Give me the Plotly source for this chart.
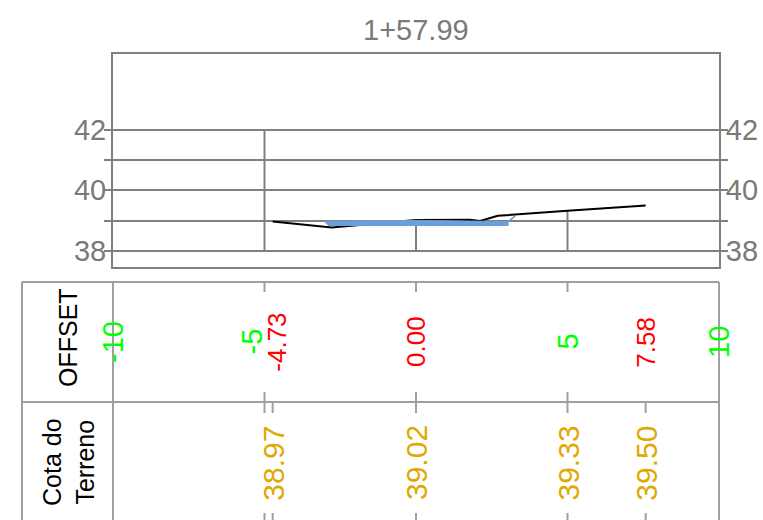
import plotly.graph_objects as go

# ---- data ----
station_title = "1+57.99"
terrain_x = [-4.73, -2.78, 0.00, 1.78, 2.11, 2.70, 5.00, 7.58]
terrain_y = [38.97, 38.77, 39.02, 39.03, 38.99, 39.16, 39.33, 39.50]
pave_x = [-3.05, 0.00, 3.04, 3.04, -2.90]
pave_y = [38.98, 39.01, 38.97, 38.84, 38.84]
slope_x = [3.04, 3.27]
slope_y = [38.97, 39.15]
grid_x = [-5, 0, 5]
grid_top = [42, 39.02, 39.33]
grid_bottom = 38
y_ticks = [38, 39, 40, 41, 42]
y_ticktext = ["38", "", "40", "", "42"]
offset_grid_vals = [-10, -5, 5, 10]
offset_grid_text = ["-10", "-5", "5", "10"]
offset_point_vals = [-4.73, 0.00, 7.58]
offset_point_text = ["-4.73", "0.00", "7.58"]
cota_x = [-4.73, 0.00, 5.00, 7.58]
cota_text = ["38.97", "39.02", "39.33", "39.50"]
row_labels = ["OFFSET", "Cota do<br>Terreno"]

FONT = "Liberation Sans, Arial, sans-serif"
GRAY = "#7a7a7a"
LINE = "#808080"
TLINE = "#a0a0a0"
yr = [37.47, 44.50]

fig = go.Figure()
fig.add_trace(go.Scatter(x=pave_x, y=pave_y, mode="lines", fill="toself",
                         fillcolor="#6a9fd9", line=dict(color="#6a9fd9", width=1),
                         hoverinfo="skip", showlegend=False, yaxis="y2"))
fig.add_trace(go.Scatter(x=slope_x, y=slope_y, mode="lines",
                         line=dict(color="#6a9fd9", width=1.5),
                         hoverinfo="skip", showlegend=False))
fig.add_trace(go.Scatter(x=terrain_x, y=terrain_y, mode="lines",
                         line=dict(color="black", width=2),
                         hoverinfo="skip", showlegend=False))

shapes = []
for gx, gt in zip(grid_x, grid_top):
    shapes.append(dict(type="line", xref="x", yref="y", x0=gx, x1=gx, y0=grid_bottom, y1=gt,
                       line=dict(color=LINE, width=2), layer="below"))

# table geometry (paper coords; plot area is 113..719 px, 54..267 px)
def py(p):
    return (267 - p) / 213.0

def px(p):
    return (p - 113) / 606.0

table_top, table_mid, table_bot = py(282), py(402), py(526)
for yy in [table_top, table_mid]:
    shapes.append(dict(type="line", xref="paper", yref="paper", x0=px(22), x1=1, y0=yy, y1=yy,
                       line=dict(color=TLINE, width=2)))
for xx in [px(22), 0, 1]:
    shapes.append(dict(type="line", xref="paper", yref="paper", x0=xx, x1=xx, y0=table_top, y1=table_bot,
                       line=dict(color=TLINE, width=2)))
for gx in grid_x:
    shapes.append(dict(type="line", xref="x", yref="paper", x0=gx, x1=gx, y0=py(282), y1=py(292),
                       line=dict(color=TLINE, width=2)))
    shapes.append(dict(type="line", xref="x", yref="paper", x0=gx, x1=gx, y0=py(392), y1=py(402),
                       line=dict(color=TLINE, width=2)))
for gx in sorted(set([-5] + cota_x)):
    shapes.append(dict(type="line", xref="x", yref="paper", x0=gx, x1=gx, y0=py(402), y1=py(413),
                       line=dict(color=TLINE, width=2)))
    shapes.append(dict(type="line", xref="x", yref="paper", x0=gx, x1=gx, y0=py(513), y1=py(526),
                       line=dict(color=TLINE, width=2)))

ann = []
def A(**kw):
    kw.setdefault("showarrow", False)
    kw.setdefault("xanchor", "center")
    kw.setdefault("yanchor", "middle")
    ann.append(kw)

A(text=station_title, xref="paper", yref="paper", x=0.5, y=py(30),
  font=dict(family=FONT, size=29, color=GRAY))
for v, t in zip(offset_grid_vals, offset_grid_text):
    A(text=t, xref="x", yref="paper", x=v, y=py(342), textangle=-90,
      xshift=(-13 if v == -5 else 0), font=dict(family=FONT, size=29, color="#00ff00"))
for v, t in zip(offset_point_vals, offset_point_text):
    A(text=t, xref="x", yref="paper", x=v, y=py(342), textangle=-90,
      xshift=(4 if v == -4.73 else 0), font=dict(family=FONT, size=26, color="#ff0000"))
for v, t in zip(cota_x, cota_text):
    A(text=t, xref="x", yref="paper", x=v, y=py(463), textangle=-90,
      font=dict(family=FONT, size=30, color="#e0a800"))
A(text=row_labels[0], xref="paper", yref="paper", x=px(68), y=py(338), textangle=-90,
  font=dict(family=FONT, size=25, color="black"))
A(text=row_labels[1], xref="paper", yref="paper", x=px(68), y=py(462), textangle=-90,
  font=dict(family=FONT, size=25, color="black"))

yax = dict(range=yr, tickvals=y_ticks, ticktext=y_ticktext, showgrid=True, gridcolor=LINE, gridwidth=2,
           ticks="outside", ticklen=7, tickwidth=2, tickcolor=LINE, showline=True, linecolor=LINE,
           linewidth=2, zeroline=False, automargin=False, ticklabelstandoff=-8,
           tickfont=dict(family=FONT, size=29, color=GRAY))
fig.update_layout(
    width=763, height=520, autosize=False,
    margin=dict(l=113, r=44, t=54, b=253, autoexpand=False),
    paper_bgcolor="white", plot_bgcolor="white",
    xaxis=dict(range=[-10, 10], showgrid=False, zeroline=False, showticklabels=False, ticks="",
               showline=True, mirror=True, linecolor=LINE, linewidth=2, automargin=False),
    yaxis=dict(**yax, side="left", mirror=True),
    yaxis2=dict(**yax, side="right", overlaying="y", matches="y"),
    shapes=shapes, annotations=ann, showlegend=False,
)
fig.update_layout(yaxis2_showgrid=False)
fig.write_html("out.html", config={"responsive": False, "displayModeBar": False},
               post_script="document.body.style.margin='0';")
